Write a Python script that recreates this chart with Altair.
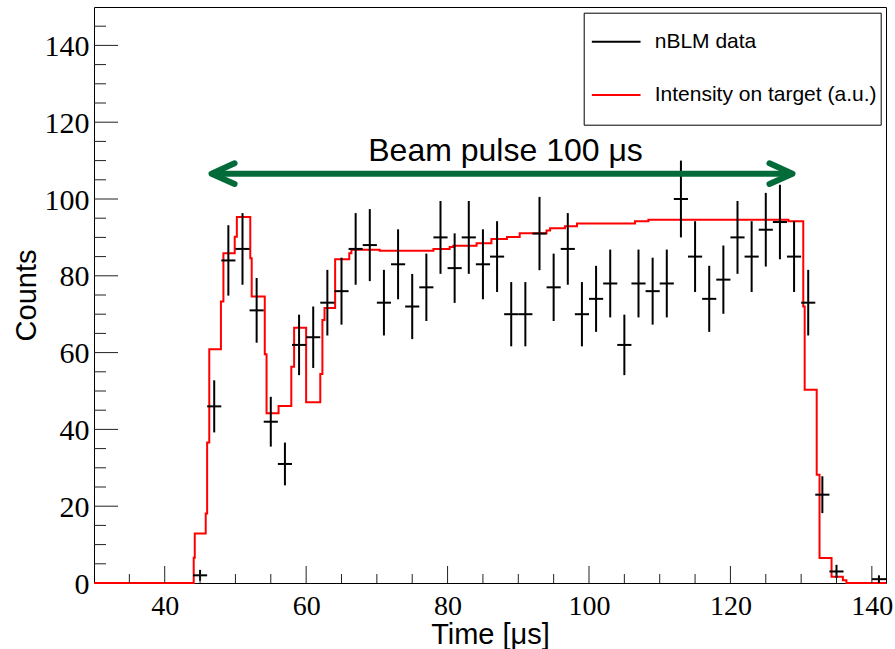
import altair as alt
import numpy as np
import pandas as pd

# ---------------- data ----------------
SERIES = ["nBLM data", "Intensity on target (a.u.)"]

# nBLM data histogram, 2 us bins (bin centres and counts)
bin_centers = [45, 47, 49, 51, 53, 55, 57, 59, 61, 63, 65, 67, 69, 71, 73, 75, 77,
               79, 81, 83, 85, 87, 89, 91, 93, 95, 97, 99, 101, 103, 105, 107, 109,
               111, 113, 115, 117, 119, 121, 123, 125, 127, 129, 131, 133, 135, 141]
counts = [2, 46, 84, 87, 71, 42, 31, 62, 64, 73, 76, 87, 88, 73, 83, 72, 77,
          90, 82, 90, 83, 85, 70, 70, 91, 77, 87, 70, 74, 78, 62, 78, 76,
          78, 100, 85, 74, 79, 90, 85, 92, 94, 85, 73, 23, 3, 1]
bin_half_width = 1.0

# Intensity on target (a.u.): step histogram, bin start time and value
intensity_t = [30, 44.1, 44.25, 45.8, 46.0, 46.3, 47.95, 48.3, 49.9, 50.2, 52.1, 52.3,
               54.15, 54.4, 56.1, 57.9, 58.3, 60.0, 62.0, 62.3, 62.6, 64.1, 66.1, 66.4,
               70.4, 78.0, 80.3, 80.8, 84.1, 86.2, 88.4, 90.2, 94.0, 94.5, 96.6, 98.3,
               106.5, 108.4, 128.2, 130.3, 130.5, 132.2, 132.6, 134.3, 135.9, 136.4, 142]
intensity_v = [0, 6.6, 12.9, 18.1, 36.6, 60.9, 73.3, 85.9, 90.2, 95.3, 84.6, 74.6,
               59.6, 44.2, 46.1, 56.3, 66.5, 47.05, 54.4, 68.5, 71.6, 84.3, 85.9, 86.8,
               86.5, 87.0, 87.5, 87.8, 88.5, 89.6, 90.1, 91.1, 91.8, 92.4, 92.9, 93.6,
               94.2, 94.6, 94.2, 72.0, 50.3, 28.2, 6.5, 1.6, 0.7, 0, 0]

# axes
x_domain = [30, 142]
y_domain = [0, 150]
x_labels = [40, 60, 80, 100, 120, 140]
y_labels = [0, 20, 40, 60, 80, 100, 120, 140]
x_minor = [v for v in range(35, 142, 5) if v not in x_labels]
y_minor = [v for v in range(5, 150, 5) if v not in y_labels]
x_major = x_labels
y_major = y_labels[1:]

# annotation: beam pulse arrow
arrow_x = [46.2, 129.2]
arrow_y = 106.6
annot_text = "Beam pulse 100 μs"
annot_x = 88.2
annot_y = 109.8

# ---------------- styling ----------------
W, H = 792, 576
GREEN = "#036b3a"
TICK = "#222222"

xs = alt.Scale(domain=x_domain, nice=False, zero=False)
ys = alt.Scale(domain=y_domain, nice=False, zero=False)

legend = alt.Legend(
    title=None, orient="none", legendX=489.7, legendY=5.7,
    symbolType="stroke", symbolSize=2372, symbolStrokeWidth=2, symbolOffset=3,
    labelOffset=13, padding=4, rowPadding=3.3, clipHeight=50,
    strokeColor="black", fillColor="white",
    labelFont="Liberation Sans", labelFontSize=21, labelColor="black", labelLimit=500,
)
color = alt.Color("series:N", scale=alt.Scale(domain=SERIES, range=["black", "#ff0000"]),
                  legend=legend)

x_axis = alt.Axis(
    values=x_labels, title="Time [μs]", domain=False, ticks=False, tickSize=0, grid=False,
    labelFont="Liberation Serif", labelFontSize=28, labelColor="black", labelPadding=9,
    labelFlush=False, labelOverlap=False, format="d",
    titleFont="Liberation Sans", titleFontSize=29, titleFontWeight="normal",
    titleColor="black", titleY=60, titleBaseline="alphabetic", titleAnchor="middle",
)
y_axis = alt.Axis(
    values=y_labels, title="Counts", domain=False, ticks=False, tickSize=0, grid=False,
    labelFont="Liberation Serif", labelFontSize=30, labelColor="black", labelPadding=5,
    labelOffset=1, labelFlush=False, labelOverlap=False, format="d",
    titleFont="Liberation Sans", titleFontSize=29, titleFontWeight="normal",
    titleColor="black", titleX=-59, titleY=H / 2, titleAngle=270,
    titleBaseline="alphabetic", titleAlign="center",
)


def X(field):
    return alt.X(field, scale=xs, axis=x_axis)


def Y(field):
    return alt.Y(field, scale=ys, axis=y_axis)


# ---------------- tables ----------------
pts = pd.DataFrame({"t": bin_centers, "n": counts})
pts["err"] = np.sqrt(pts["n"])
pts["lo"] = (pts["n"] - pts["err"]).clip(lower=0)
pts["hi"] = pts["n"] + pts["err"]
pts["t0"] = pts["t"] - bin_half_width
pts["t1"] = pts["t"] + bin_half_width
pts["series"] = SERIES[0]

red = pd.DataFrame({"t": intensity_t, "v": intensity_v, "series": SERIES[1]})

xmin_df = pd.DataFrame({"v": x_minor})
xmaj_df = pd.DataFrame({"v": x_major})
ymin_df = pd.DataFrame({"v": y_minor})
ymaj_df = pd.DataFrame({"v": y_major})

shaft = pd.DataFrame({"x0": [arrow_x[0]], "x1": [arrow_x[1]], "y": [arrow_y]})
head_l = pd.DataFrame({"x": [arrow_x[0]], "y": [arrow_y]})
head_r = pd.DataFrame({"x": [arrow_x[1]], "y": [arrow_y]})
annot = pd.DataFrame({"x": [annot_x], "y": [annot_y], "text": [annot_text]})

# ---------------- layers ----------------
red_line = alt.Chart(red).mark_line(interpolate="step-after", strokeWidth=2).encode(
    x=X("t:Q"), y=Y("v:Q"), color=color,
)

vbars = alt.Chart(pts).mark_rule(strokeWidth=2).encode(
    x=X("t:Q"), y=Y("lo:Q"), y2="hi:Q", color=color,
)
hbars = alt.Chart(pts).mark_rule(strokeWidth=2).encode(
    x=X("t0:Q"), x2="t1:Q", y=Y("n:Q"), color=color,
)


def xticks(df, length):
    return alt.Chart(df).mark_rule(color=TICK, strokeWidth=1).encode(
        x=X("v:Q"), y=alt.value(H), y2=alt.value(H - length),
    )


def yticks(df, length):
    return alt.Chart(df).mark_rule(color=TICK, strokeWidth=1).encode(
        y=Y("v:Q"), x=alt.value(0), x2=alt.value(length),
    )


arrow_shaft = alt.Chart(shaft).mark_rule(color=GREEN, strokeWidth=6, xOffset=5, x2Offset=-5).encode(
    x=X("x0:Q"), x2="x1:Q", y=Y("y:Q"),
)
arrow_left = alt.Chart(head_l).mark_point(
    shape="M 1 -0.45 L 0 0 L 1 0.45", size=2116, filled=False, strokeWidth=6,
    color=GREEN, opacity=1, strokeJoin="round", strokeCap="round", xOffset=3,
).encode(x=X("x:Q"), y=Y("y:Q"))
arrow_right = alt.Chart(head_r).mark_point(
    shape="M -1 -0.45 L 0 0 L -1 0.45", size=2116, filled=False, strokeWidth=6,
    color=GREEN, opacity=1, strokeJoin="round", strokeCap="round", xOffset=-3,
).encode(x=X("x:Q"), y=Y("y:Q"))

annot_text_layer = alt.Chart(annot).mark_text(
    font="Liberation Sans", fontSize=32, color="black", align="center", baseline="alphabetic",
).encode(x=X("x:Q"), y=Y("y:Q"), text="text:N")

chart = alt.layer(
    red_line, vbars, hbars,
    xticks(xmin_df, 9), xticks(xmaj_df, 17), yticks(ymin_df, 12), yticks(ymaj_df, 24),
    arrow_shaft, arrow_left, arrow_right, annot_text_layer,
).properties(
    width=W, height=H,
    autosize=alt.AutoSizeParams(type="none"),
    padding={"left": 94, "top": 7, "right": 895 - 94 - W, "bottom": 649 - 7 - H},
    background="white",
).configure_view(stroke="black", strokeWidth=1)

chart.save("out.html", embed_options={"renderer": "svg", "actions": False})
